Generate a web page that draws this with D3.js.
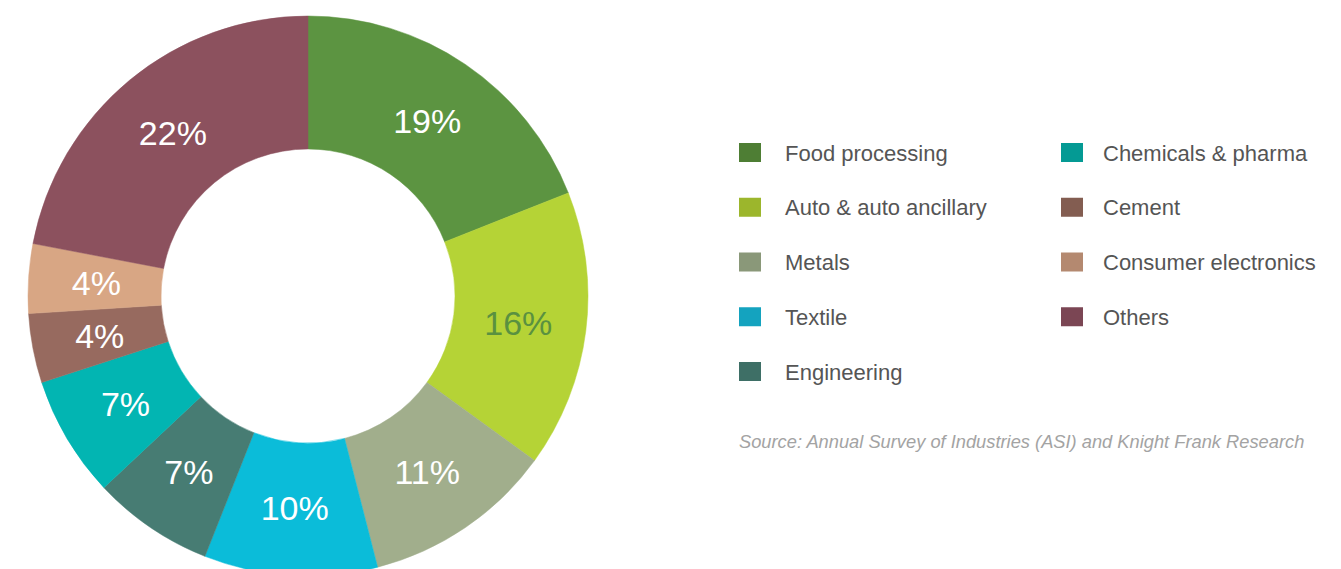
<!DOCTYPE html>
<html>
<head>
<meta charset="utf-8">
<script src="https://cdn.jsdelivr.net/npm/d3@7"></script>
<style>
  html, body { margin: 0; padding: 0; background: #fff; }
  svg { display: block; }
</style>
</head>
<body>
<svg id="chart" width="1341" height="569"></svg>
<script>
const categories = ["Food processing", "Auto & auto ancillary", "Metals", "Textile", "Engineering",
                    "Chemicals & pharma", "Cement", "Consumer electronics", "Others"];
const shares = [19, 16, 11, 10, 7, 7, 4, 4, 22];
const sliceColors = ["#5c9441", "#b5d336", "#a1ae8c", "#0bbcd9", "#477c73",
                     "#02b5b2", "#976a5f", "#d8a684", "#8c515e"];
const legendColors = ["#4e7e34", "#9cb62c", "#8a9879", "#14a3bf", "#3e6f66",
                      "#049a94", "#835d51", "#b48970", "#7b4654"];
const labelColors = ["#fff", "#5a9140", "#fff", "#fff", "#fff", "#fff", "#fff", "#fff", "#fff"];
const legendCol1 = ["Food processing", "Auto & auto ancillary", "Metals", "Textile", "Engineering"];
const legendCol2 = ["Chemicals & pharma", "Cement", "Consumer electronics", "Others"];
const sourceText = "Source: Annual Survey of Industries (ASI) and Knight Frank Research";

const svg = d3.select("#chart");
const data = categories.map((c, i) => ({ name: c, value: shares[i] }));

const cx = 308, cy = 296, rOuter = 280, rInner = 147;
const pie = d3.pie().value(d => d.value).sort(null);
const arc = d3.arc().innerRadius(rInner).outerRadius(rOuter);
const labelArc = d3.arc().innerRadius(212).outerRadius(212);

const g = svg.append("g").attr("transform", `translate(${cx},${cy})`);
const arcs = pie(data);

g.selectAll("path.slice")
  .data(arcs)
  .enter().append("path")
  .attr("class", "slice")
  .attr("d", arc)
  .attr("fill", (d, i) => sliceColors[i])
  .attr("stroke", (d, i) => sliceColors[i])
  .attr("stroke-width", 0.5);

g.selectAll("text.lbl")
  .data(arcs)
  .enter().append("text")
  .attr("class", "lbl")
  .attr("transform", d => `translate(${labelArc.centroid(d)})`)
  .attr("text-anchor", "middle")
  .attr("dy", "0.36em")
  .attr("font-family", "'Liberation Sans', Arial, sans-serif")
  .attr("font-size", 34)
  .attr("fill", (d, i) => labelColors[i])
  .text(d => d.data.value + "%");

// Legend
const colScale = d3.scaleOrdinal().domain(categories).range(legendColors);
const rowY = d3.scalePoint().domain(d3.range(5)).range([153, 372]);

function drawLegend(items, xSq, xText) {
  const lg = svg.append("g");
  const row = lg.selectAll("g").data(items).enter().append("g")
    .attr("transform", (d, i) => `translate(0,${rowY(i)})`);
  row.append("rect")
    .attr("x", xSq).attr("y", -10)
    .attr("width", 22).attr("height", 19)
    .attr("fill", d => colScale(d));
  row.append("text")
    .attr("x", xText).attr("y", 0)
    .attr("dy", "0.35em")
    .attr("font-family", "'Liberation Sans', Arial, sans-serif")
    .attr("font-size", 22)
    .attr("fill", "#555")
    .text(d => d);
}
drawLegend(legendCol1, 739, 785);
drawLegend(legendCol2, 1061, 1103);

svg.append("text")
  .attr("x", 739).attr("y", 448)
  .attr("font-family", "'Liberation Sans', Arial, sans-serif")
  .attr("font-style", "italic")
  .attr("font-size", 18.3)
  .attr("fill", "#a3a3a3")
  .text(sourceText);
</script>
</body>
</html>
